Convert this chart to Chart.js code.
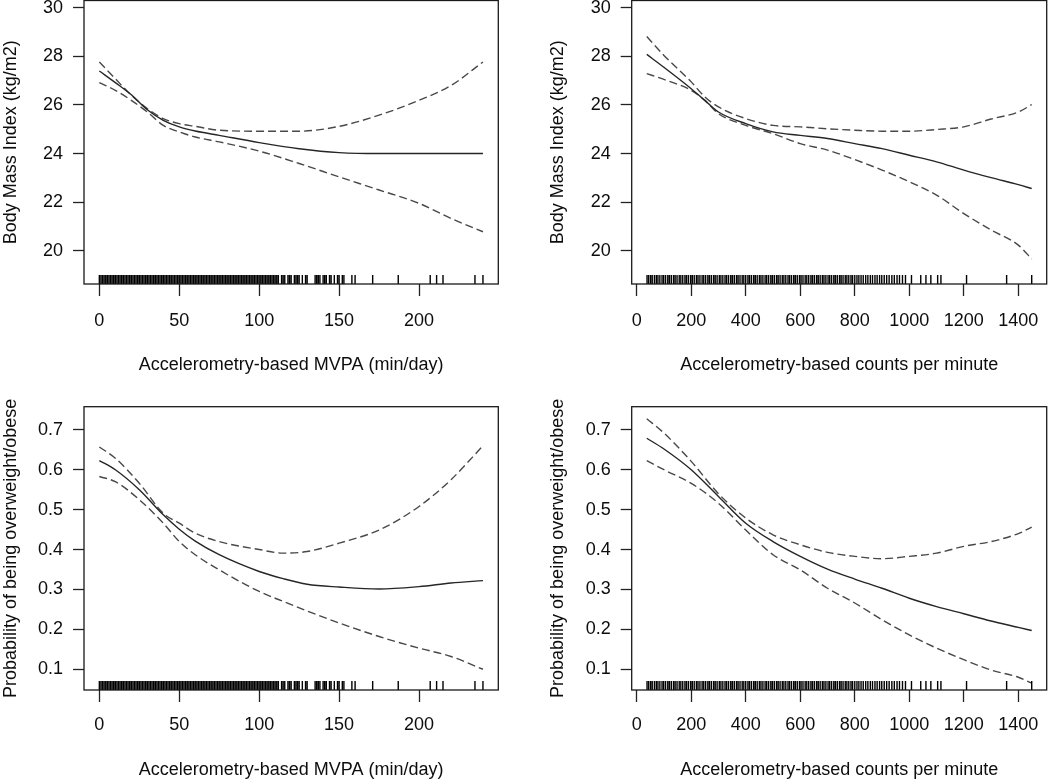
<!DOCTYPE html>
<html><head><meta charset="utf-8">
<script src="https://cdn.jsdelivr.net/npm/chart.js@4/dist/chart.umd.min.js"></script>
<style>
html,body{margin:0;padding:0;background:#fff;}
body{width:1050px;height:781px;position:relative;overflow:hidden;}
canvas{position:absolute;}
</style></head><body>
<canvas id="c1" width="525" height="390" style="left:0;top:0"></canvas>
<canvas id="c2" width="525" height="390" style="left:525px;top:0"></canvas>
<canvas id="c3" width="525" height="391" style="left:0;top:390px"></canvas>
<canvas id="c4" width="525" height="391" style="left:525px;top:390px"></canvas>
<script>
// ---------- data ----------
const xTitleMVPA = 'Accelerometry-based MVPA (min/day)';
const xTitleCPM = 'Accelerometry-based counts per minute';
const yTitleBMI = 'Body Mass Index (kg/m2)';
const yTitleProb = 'Probability of being overweight/obese';

const xTicksMVPA = [0, 50, 100, 150, 200];
const xTicksCPM = [0, 200, 400, 600, 800, 1000, 1200, 1400];
const yTicksBMI = [20, 22, 24, 26, 28, 30];
const yTicksProb = [0.1, 0.2, 0.3, 0.4, 0.5, 0.6, 0.7];

// Panel A: BMI vs MVPA
const mvpaGridA = [0, 10, 20, 30, 40, 50, 60, 75, 100, 125, 150, 175, 200, 220, 240];
const bmiMvpaFit = [27.4, 26.92, 26.42, 25.8, 25.37, 25.1, 24.93, 24.75, 24.45, 24.2, 24.04, 24.0, 24.0, 24.0, 24.0];
const bmiMvpaUpper = [27.77, 27.08, 26.4, 25.85, 25.44, 25.23, 25.12, 24.96, 24.92, 24.92, 25.12, 25.58, 26.19, 26.8, 27.77];
const bmiMvpaLower = [26.92, 26.6, 26.19, 25.71, 25.16, 24.89, 24.68, 24.48, 24.1, 23.59, 23.04, 22.5, 21.95, 21.33, 20.78];

// Panel B: BMI vs CPM
const cpmGridB = [37, 100, 200, 250, 300, 400, 500, 600, 700, 800, 900, 1000, 1100, 1200, 1300, 1400, 1449];
const bmiCpmFit = [28.08, 27.55, 26.67, 26.19, 25.71, 25.23, 24.89, 24.75, 24.62, 24.41, 24.2, 23.93, 23.66, 23.32, 23.01, 22.72, 22.56];
const bmiCpmUpper = [28.82, 28.04, 26.95, 26.33, 25.92, 25.44, 25.16, 25.1, 25.02, 24.96, 24.92, 24.92, 24.99, 25.1, 25.42, 25.71, 26.01];
const bmiCpmLower = [27.29, 27.05, 26.6, 26.19, 25.64, 25.16, 24.82, 24.41, 24.14, 23.75, 23.32, 22.84, 22.29, 21.53, 20.85, 20.23, 19.66];

// Panel C: probability vs MVPA
const mvpaGridC = [0, 10, 25, 40, 50, 60, 75, 100, 115, 130, 150, 175, 200, 220, 240];
const probMvpaFit = [0.623, 0.6, 0.55, 0.487, 0.451, 0.421, 0.387, 0.345, 0.327, 0.313, 0.306, 0.301, 0.307, 0.316, 0.322];
const probMvpaUpper = [0.657, 0.629, 0.566, 0.491, 0.466, 0.441, 0.42, 0.4, 0.391, 0.395, 0.416, 0.449, 0.508, 0.575, 0.66];
const probMvpaLower = [0.583, 0.57, 0.525, 0.466, 0.42, 0.387, 0.349, 0.295, 0.27, 0.246, 0.216, 0.182, 0.153, 0.132, 0.1];

// Panel D: probability vs CPM
const cpmGridD = [37, 100, 200, 300, 400, 500, 600, 700, 800, 900, 1000, 1100, 1200, 1300, 1400, 1449];
const probCpmFit = [0.679, 0.652, 0.6, 0.533, 0.466, 0.42, 0.383, 0.351, 0.326, 0.303, 0.278, 0.257, 0.239, 0.221, 0.205, 0.197];
const probCpmUpper = [0.728, 0.692, 0.621, 0.54, 0.479, 0.437, 0.412, 0.393, 0.383, 0.377, 0.383, 0.391, 0.408, 0.42, 0.44, 0.456];
const probCpmLower = [0.623, 0.6, 0.566, 0.516, 0.449, 0.387, 0.349, 0.303, 0.266, 0.224, 0.186, 0.153, 0.124, 0.098, 0.08, 0.065];

// Rug (observed exposure values)
const rugMVPA = [0,1,2,3,4,5,6,7,8,9,10,11,12,13,14,15,16,17,18,19,20,21,22,23,24,25,26,27,28,29,30,31,32,33,34,35,36,37,38,39,40,41,42,43,44,45,46,47,48,49,50,51,52,53,54,55,56,57,58,59,60,61,62,63,64,65,66,67,68,69,70,71,72,73,74,75,76,77,78,79,80,81,82,83,84,85,86,87,88,89,90,91,92,93,94,95,96,97,98,99,100,101,102,103,104,105,106,107,108,109,110,111,112,114,115,116,118,119,120,122,123,124,125,127,129,130,135,136,137,138,140,141,142,144,145,147,149,150,152,153,158,160,171,187,207,211,215,235,240];
const rugCPM = [38,44,51,57,65,72,78,85,93,99,106,114,120,127,135,141,148,156,162,169,177,183,190,198,204,211,219,225,232,240,246,253,261,267,274,282,288,295,303,309,316,324,330,337,345,351,358,366,372,379,387,393,400,408,414,421,429,435,442,450,456,463,471,477,484,492,498,505,513,519,526,534,540,547,555,561,568,576,582,589,597,603,610,618,624,631,639,645,652,660,666,673,681,687,694,702,708,715,723,729,736,744,750,757,765,771,778,786,792,800,808,815,823,831,840,848,857,865,874,882,891,899,908,917,926,936,945,955,964,975,986,1008,1042,1061,1079,1104,1116,1210,1357,1449];

// ---------- drawing ----------
const FONT = "'Liberation Sans', Arial, Helvetica, sans-serif";
const INK = '#0d0d0d';

const rStyle = {
  id: 'rstyle',
  afterDatasetsDraw(chart, args, opts) {
    const {ctx, chartArea: a, scales: {x}} = chart;
    ctx.save();
    ctx.beginPath();
    ctx.strokeStyle = '#000';
    ctx.lineWidth = 1.4;
    opts.rug.forEach(v => {
      const px = x.getPixelForValue(v);
      ctx.moveTo(px, a.bottom);
      ctx.lineTo(px, a.bottom - 9);
    });
    ctx.stroke();
    ctx.lineWidth = 1.3;
    ctx.strokeStyle = '#1a1a1a';
    ctx.strokeRect(a.left, a.top, a.right - a.left, a.bottom - a.top);
    ctx.restore();
  }
};

function pts(xs, ys) { return xs.map((x, i) => ({x: x, y: ys[i]})); }

function panel(id, o) {
  const lineBase = {pointRadius: 0, cubicInterpolationMode: 'monotone', fill: false};
  const font = {family: FONT, size: 18};
  new Chart(document.getElementById(id), {
    type: 'line',
    data: {datasets: [
      Object.assign({data: pts(o.grid, o.fit), borderColor: '#262626', borderWidth: 1.4}, lineBase),
      Object.assign({data: pts(o.grid, o.upper), borderColor: '#484848', borderWidth: 1.4, borderDash: [8, 4]}, lineBase),
      Object.assign({data: pts(o.grid, o.lower), borderColor: '#484848', borderWidth: 1.4, borderDash: [8, 4]}, lineBase)
    ]},
    options: {
      responsive: false, animation: false, devicePixelRatio: 1,
      layout: {padding: {left: 0, top: o.padTop, right: o.padRight, bottom: 0}},
      plugins: {legend: {display: false}, tooltip: {enabled: false}, rstyle: {rug: o.rug}},
      scales: {
        x: {
          type: 'linear', min: o.xmin, max: o.xmax,
          afterBuildTicks: s => { s.ticks = o.xticks.map(v => ({value: v})); },
          afterFit: s => { s.height = o.xh; s.paddingLeft = 0; s.paddingRight = 0; s.paddingTop = 0; s.paddingBottom = 0; },
          grid: {display: true, drawOnChartArea: false, drawTicks: true, tickLength: 12, tickColor: '#222', tickWidth: 1.3},
          border: {display: false},
          ticks: {font: font, color: INK, padding: o.xTickPad, autoSkip: false, maxRotation: 0, minRotation: 0, callback: v => String(v)},
          title: {display: true, text: o.xTitle, font: font, color: INK, padding: {top: 0, bottom: o.xTitlePad}}
        },
        y: {
          type: 'linear', min: o.ymin, max: o.ymax,
          afterBuildTicks: s => { s.ticks = o.yticks.map(v => ({value: v})); },
          afterFit: s => { s.width = o.yw; s.paddingLeft = 0; s.paddingRight = 0; s.paddingTop = 0; s.paddingBottom = 0; },
          grid: {display: true, drawOnChartArea: false, drawTicks: true, tickLength: 11, tickColor: '#222', tickWidth: 1.3},
          border: {display: false},
          ticks: {font: font, color: INK, padding: 10, autoSkip: false, callback: v => String(v)},
          title: {display: true, text: o.yTitle, font: font, color: INK, padding: {top: o.yTitlePad, bottom: 0}}
        }
      }
    },
    plugins: [rStyle]
  });
}

panel('c1', {grid: mvpaGridA, fit: bmiMvpaFit, upper: bmiMvpaUpper, lower: bmiMvpaLower, rug: rugMVPA,
  xmin: -9.6, xmax: 249.6, ymin: 18.63, ymax: 30.3, xticks: xTicksMVPA, yticks: yTicksBMI,
  xTitle: xTitleMVPA, yTitle: yTitleBMI, padTop: 0.5, padRight: 26.7, xh: 106, yw: 84,
  xTickPad: 14.2, xTitlePad: 14.2, yTitlePad: 0});
panel('c2', {grid: cpmGridB, fit: bmiCpmFit, upper: bmiCpmUpper, lower: bmiCpmLower, rug: rugCPM,
  xmin: -18.3, xmax: 1504, ymin: 18.63, ymax: 30.3, xticks: xTicksCPM, yticks: yTicksBMI,
  xTitle: xTitleCPM, yTitle: yTitleBMI, padTop: 0.5, padRight: 3.3, xh: 106, yw: 106.7,
  xTickPad: 14.2, xTitlePad: 14.2, yTitlePad: 22.5});
panel('c3', {grid: mvpaGridC, fit: probMvpaFit, upper: probMvpaUpper, lower: probMvpaLower, rug: rugMVPA,
  xmin: -9.6, xmax: 249.6, ymin: 0.048, ymax: 0.758, xticks: xTicksMVPA, yticks: yTicksProb,
  xTitle: xTitleMVPA, yTitle: yTitleProb, padTop: 16.7, padRight: 26.7, xh: 91, yw: 84,
  xTickPad: 12.2, xTitlePad: 0.2, yTitlePad: 0});
panel('c4', {grid: cpmGridD, fit: probCpmFit, upper: probCpmUpper, lower: probCpmLower, rug: rugCPM,
  xmin: -18.3, xmax: 1504, ymin: 0.048, ymax: 0.758, xticks: xTicksCPM, yticks: yTicksProb,
  xTitle: xTitleCPM, yTitle: yTitleProb, padTop: 16.7, padRight: 3.3, xh: 91, yw: 106.7,
  xTickPad: 12.2, xTitlePad: 0.2, yTitlePad: 22.5});
</script>
</body></html>
